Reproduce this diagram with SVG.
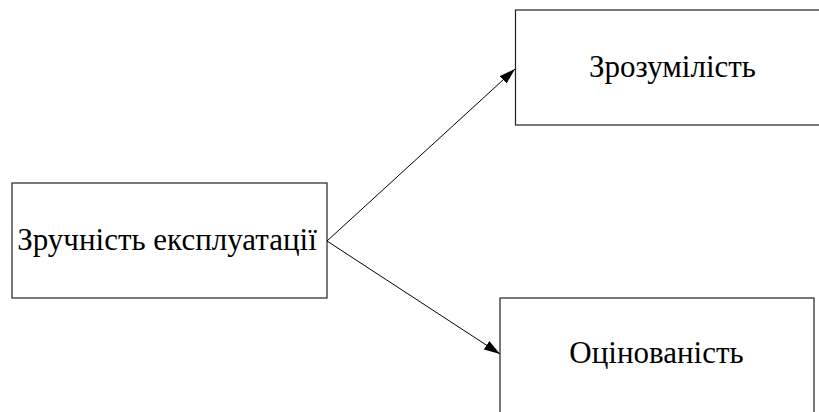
<svg xmlns="http://www.w3.org/2000/svg" width="819" height="412" viewBox="0 0 819 412">
<style>
.box{fill:#fff;stroke:#222;stroke-width:1.2}
.lbl{font-family:'Liberation Serif','Times New Roman',serif;font-size:31px;fill:#000;text-anchor:middle}
.conn{stroke:#000;stroke-width:1;fill:none}
</style>
<defs>
<marker id="arr" viewBox="0 0 16 10" refX="16" refY="5" markerWidth="16" markerHeight="10" markerUnits="userSpaceOnUse" orient="auto">
<path d="M0,0 L16,5 L0,10 Z" fill="#000"/>
</marker>
</defs>
<rect width="819" height="412" fill="#fff"/>
<g id="node-usability">
<rect class="box" x="12" y="183" width="315" height="115"/>
<text class="lbl" x="167" y="250">Зручність експлуатації</text>
</g>
<g id="node-understandability">
<rect class="box" x="515.5" y="10" width="320" height="115"/>
<text class="lbl" x="672.5" y="77">Зрозумілість</text>
</g>
<g id="node-evaluability">
<rect class="box" x="500" y="298" width="314" height="130"/>
<text class="lbl" x="656.5" y="363">Оцінованість</text>
</g>
<g id="connectors">
<line class="conn" x1="327" y1="241" x2="515" y2="69" marker-end="url(#arr)"/>
<line class="conn" x1="327" y1="241" x2="500" y2="354" marker-end="url(#arr)"/>
</g>
</svg>
